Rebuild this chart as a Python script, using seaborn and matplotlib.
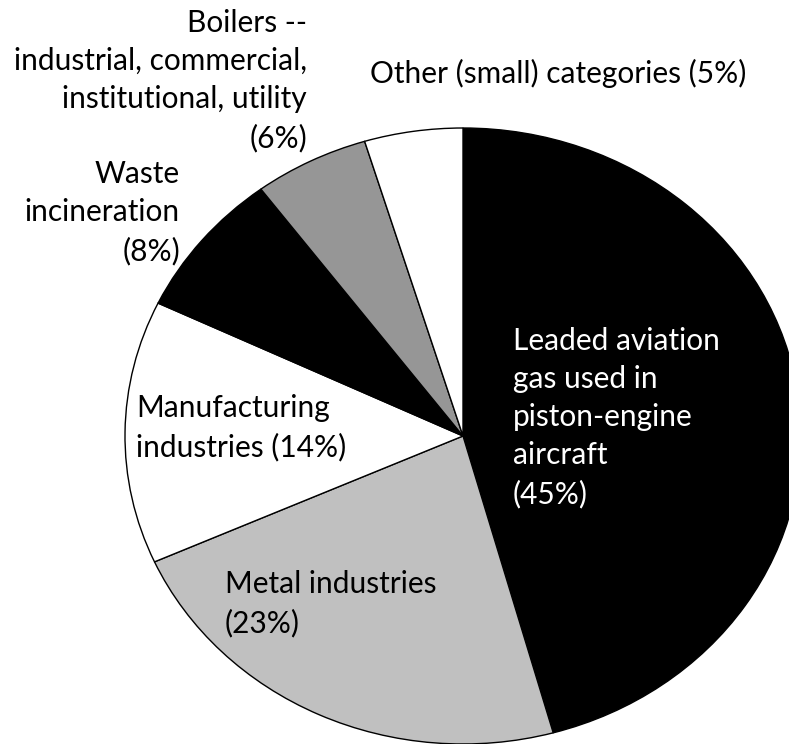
import matplotlib
matplotlib.use("Agg")
import matplotlib.pyplot as plt
import seaborn as sns

categories = [
    "Leaded aviation\ngas used in\npiston-engine\naircraft\n(45%)",
    "Metal industries\n(23%)",
    "Manufacturing\nindustries (14%)",
    "Waste\nincineration\n(8%)",
    "Boilers --\nindustrial, commercial,\ninstitutional, utility\n(6%)",
    "Other (small) categories (5%)",
]
shares = [45.7, 22.6, 13.8, 7.7, 5.5, 4.7]
colors = ["#000000", "#c0c0c0", "#ffffff", "#000000", "#969696", "#ffffff"]
text_colors = ["white", "black", "black", "black", "black", "black"]

sns.set_theme(style="white")
plt.rcParams["font.family"] = ["Lato", "DejaVu Sans"]

W, H = 789, 744
fig = plt.figure(figsize=(W / 100, H / 100), dpi=100)
fig.patch.set_facecolor("white")

# pie occupies x 125..801 px, y 128..744 px (slightly elliptical)
ax = fig.add_axes([125 / W, 0.0, 676 / W, 616 / H])
ax.pie(shares, colors=colors, startangle=90, counterclock=False,
       wedgeprops=dict(edgecolor="black", linewidth=1.0))
ax.set_aspect("auto")
ax.set_xlim(-1, 1)
ax.set_ylim(-1, 1)
ax.axis("off")

# label placements in pixels: (x, last-line baseline y, ha)
label_pos = [
    (513, 503, "left"),
    (225, 632, "left"),
    (136, 456, "left"),
    (180, 260, "right"),
    (307, 147, "right"),
    (370, 83, "left"),
]
fs = 21.5
for text, (x, y, ha), tc in zip(categories, label_pos, text_colors):
    fig.text(x / W, 1 - y / H, text, ha=ha, va="baseline", fontsize=fs,
             color=tc, linespacing=1.44, multialignment=ha)

fig.savefig("out.png", dpi=100)
